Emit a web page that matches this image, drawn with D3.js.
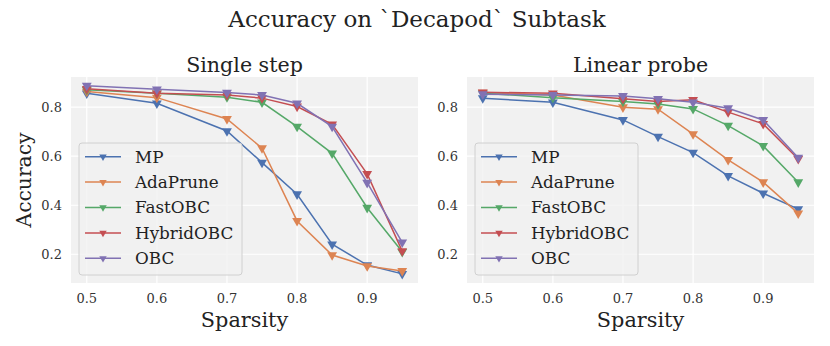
<!DOCTYPE html>
<html>
<head>
<meta charset="utf-8">
<script src="https://cdn.jsdelivr.net/npm/d3@7"></script>
<style>
  body { margin: 0; background: #fff; }
  svg { display: block; font-family: "DejaVu Serif", serif; }
</style>
</head>
<body>
<div id="chart"></div>
<script>
const sparsity = [0.5, 0.6, 0.7, 0.75, 0.8, 0.85, 0.9, 0.95];
const methods = ["MP", "AdaPrune", "FastOBC", "HybridOBC", "OBC"];
const colors = ["#4C72B0", "#DD8452", "#55A868", "#C44E52", "#8172B3"];

// Single step
const singleMP        = [0.857, 0.816, 0.703, 0.574, 0.445, 0.241, 0.156, 0.120];
const singleAdaPrune  = [0.864, 0.839, 0.752, 0.633, 0.336, 0.197, 0.152, 0.132];
const singleFastOBC   = [0.871, 0.857, 0.841, 0.820, 0.721, 0.612, 0.390, 0.210];
const singleHybridOBC = [0.875, 0.857, 0.850, 0.837, 0.803, 0.730, 0.528, 0.213];
const singleOBC       = [0.888, 0.873, 0.860, 0.850, 0.816, 0.721, 0.492, 0.249];

// Linear probe
const probeMP        = [0.837, 0.820, 0.748, 0.680, 0.615, 0.520, 0.449, 0.384];
const probeAdaPrune  = [0.860, 0.850, 0.800, 0.792, 0.690, 0.585, 0.494, 0.367];
const probeFastOBC   = [0.857, 0.839, 0.823, 0.813, 0.793, 0.725, 0.642, 0.494];
const probeHybridOBC = [0.861, 0.857, 0.834, 0.823, 0.830, 0.780, 0.732, 0.589];
const probeOBC       = [0.853, 0.850, 0.846, 0.834, 0.820, 0.796, 0.748, 0.594];

const yTicks = [0.2, 0.4, 0.6, 0.8];
const xTicks = [0.5, 0.6, 0.7, 0.8, 0.9];

const panels = [
  { title: "Single step", left: 71, series: [singleMP, singleAdaPrune, singleFastOBC, singleHybridOBC, singleOBC] },
  { title: "Linear probe", left: 467, series: [probeMP, probeAdaPrune, probeFastOBC, probeHybridOBC, probeOBC] }
];

const W = 830, H = 346;
const plotTop = 77, plotBottom = 283, pw = 347;

const svg = d3.select("#chart").append("svg").attr("width", W).attr("height", H);

svg.append("text").attr("x", 417).attr("y", 27).attr("text-anchor", "middle")
  .attr("font-size", 23).attr("fill", "#222").text("Accuracy on `Decapod` Subtask");

const y = d3.scaleLinear().domain([0.0828, 0.9232]).range([plotBottom, plotTop]);
const tri = d3.symbol().type(d3.symbolTriangle).size(42);
const triSmall = d3.symbol().type(d3.symbolTriangle).size(24);

panels.forEach((p, pi) => {
  const x = d3.scaleLinear().domain([0.4775, 0.9725]).range([p.left, p.left + pw]);
  const g = svg.append("g");

  g.append("rect").attr("x", p.left).attr("y", plotTop).attr("width", pw).attr("height", plotBottom - plotTop)
    .attr("fill", "#f1f1f1");

  // grid
  g.selectAll(".gy").data(yTicks).enter().append("line")
    .attr("x1", p.left).attr("x2", p.left + pw)
    .attr("y1", d => y(d)).attr("y2", d => y(d))
    .attr("stroke", "#fff").attr("stroke-width", 1.2);
  g.selectAll(".gx").data(xTicks).enter().append("line")
    .attr("y1", plotTop).attr("y2", plotBottom)
    .attr("x1", d => x(d)).attr("x2", d => x(d))
    .attr("stroke", "#fff").attr("stroke-width", 1.2);

  // tick labels
  g.selectAll(".yl").data(yTicks).enter().append("text")
    .attr("x", p.left - 9).attr("y", d => y(d)).attr("dy", "0.35em")
    .attr("text-anchor", "end").attr("font-size", 13).attr("fill", "#333")
    .text(d => d.toFixed(1));
  g.selectAll(".xl").data(xTicks).enter().append("text")
    .attr("x", d => x(d)).attr("y", 303)
    .attr("text-anchor", "middle").attr("font-size", 13).attr("fill", "#333")
    .text(d => d.toFixed(1));

  g.append("text").attr("x", p.left + pw / 2).attr("y", 72).attr("text-anchor", "middle")
    .attr("font-size", 20.6).attr("fill", "#222").text(p.title);
  g.append("text").attr("x", p.left + pw / 2).attr("y", 327).attr("text-anchor", "middle")
    .attr("font-size", 20.8).attr("fill", "#222").text("Sparsity");

  const line = d3.line().x((d, i) => x(sparsity[i])).y(d => y(d));

  p.series.forEach((vals, si) => {
    g.append("path").datum(vals).attr("d", line)
      .attr("fill", "none").attr("stroke", colors[si]).attr("stroke-width", 1.5);
    g.selectAll(null).data(vals).enter().append("path")
      .attr("d", tri)
      .attr("transform", (d, i) => `translate(${x(sparsity[i])},${y(d)}) rotate(180)`)
      .attr("fill", colors[si]);
  });

  // legend
  const lx = p.left + 8, ly = 143;
  const lg = g.append("g");
  lg.append("rect").attr("x", lx).attr("y", ly).attr("width", 163).attr("height", 132)
    .attr("rx", 3).attr("fill", "#f1f1f1").attr("fill-opacity", 0.8)
    .attr("stroke", "#d0d0d0").attr("stroke-width", 1);
  methods.forEach((m, i) => {
    const yy = ly + 13.7 + i * 25.4;
    lg.append("line").attr("x1", lx + 6).attr("x2", lx + 42).attr("y1", yy).attr("y2", yy)
      .attr("stroke", colors[i]).attr("stroke-width", 1.5);
    lg.append("path").attr("d", triSmall).attr("transform", `translate(${lx + 24},${yy}) rotate(180)`)
      .attr("fill", colors[i]);
    lg.append("text").attr("x", lx + 56).attr("y", yy).attr("dy", "0.35em")
      .attr("font-size", 16.8).attr("fill", "#222").text(m);
  });
});

svg.append("text").attr("transform", "translate(31,180) rotate(-90)")
  .attr("text-anchor", "middle").attr("font-size", 20.3).attr("fill", "#222").text("Accuracy");
</script>
</body>
</html>
